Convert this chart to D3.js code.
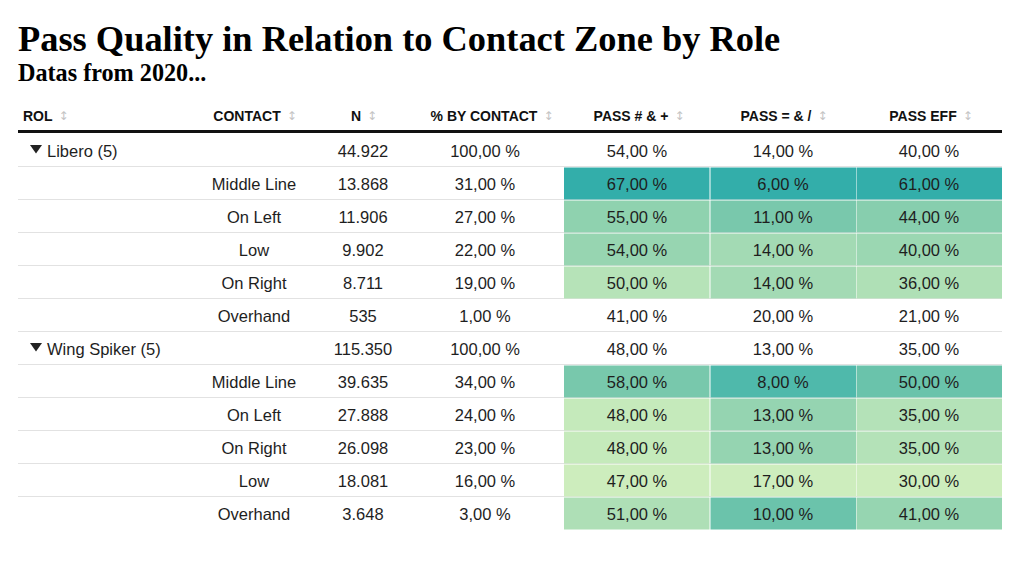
<!DOCTYPE html>
<html>
<head>
<meta charset="utf-8">
<script src="https://cdn.jsdelivr.net/npm/d3@7"></script>
<style>
  html, body { margin: 0; padding: 0; background: #fff; }
  svg { display: block; }
</style>
</head>
<body>
<svg id="chart" width="1024" height="581"></svg>
<script>
// ---------- DATA ----------
const titleText = "Pass Quality in Relation to Contact Zone by Role";
const subtitleText = "Datas from 2020...";
const headers = ["ROL", "CONTACT", "N", "% BY CONTACT", "PASS # & +", "PASS = & /", "PASS EFF"];
const roles = ["Libero (5)", "", "", "", "", "", "Wing Spiker (5)", "", "", "", "", ""];
const contacts = ["", "Middle Line", "On Left", "Low", "On Right", "Overhand", "", "Middle Line", "On Left", "On Right", "Low", "Overhand"];
const nValues = [44922, 13868, 11906, 9902, 8711, 535, 115350, 39635, 27888, 26098, 18081, 3648];
const pctByContact = [100, 31, 27, 22, 19, 1, 100, 34, 24, 23, 16, 3];
const passGood = [54, 67, 55, 54, 50, 41, 48, 58, 48, 48, 47, 51];
const passBad = [14, 6, 11, 14, 14, 20, 13, 8, 13, 13, 17, 10];
const passEff = [40, 61, 44, 40, 36, 21, 35, 50, 35, 35, 30, 41];
const colored = [false, true, true, true, true, false, false, true, true, true, true, true];

// ---------- LAYOUT ----------
const svg = d3.select("#chart");
const left = 18, right = 1002;
const headerY = 121, ruleY = 131.5;
const tableTop = 134, rowH = 33;
const colEdges = [18, 190, 320, 405, 564, 710, 856, 1002];
const valueCenters = [null, 254, 363, 485, 637, 783, 929];
const headerCenters = [null, 254, 363, 491, 638, 783, 930];
const textColor = "#1e1e1e";
const sans = "'Liberation Sans', Arial, Helvetica, sans-serif";

const rowIdx = d3.range(roles.length);
const y = d3.scaleBand().domain(rowIdx).range([tableTop, tableTop + rowH * rowIdx.length]).padding(0);

const fmtN = d3.formatLocale({decimal: ",", thousands: ".", grouping: [3], currency: ["", ""]}).format(",d");
const fmtPct = v => d3.format(".2f")(v).replace(".", ",") + " %";

// Title
svg.append("text").attr("x", left).attr("y", 51)
  .attr("font-family", "'Liberation Serif', 'Times New Roman', serif")
  .attr("font-weight", "bold").attr("font-size", 36.4).attr("fill", "#000")
  .text(titleText);
svg.append("text").attr("x", left).attr("y", 81)
  .attr("font-family", "'Liberation Serif', 'Times New Roman', serif")
  .attr("font-weight", "bold").attr("font-size", 24.2).attr("fill", "#000")
  .text(subtitleText);

// Color scales (per column, over colored cells)
const lightC = "#cdedbd", midC = "#80cbac", darkC = "#33aeaa";
function makeScale(vals, invert) {
  const ext = d3.extent(vals.filter((v, i) => colored[i]));
  const dom = invert ? [ext[1], ext[0]] : ext;
  return d3.scaleLinear().domain([dom[0], (dom[0] + dom[1]) / 2, dom[1]]).range([lightC, midC, darkC]).interpolate(d3.interpolateRgb);
}
const colorCols = [
  {vals: passGood, scale: makeScale(passGood, false), col: 4},
  {vals: passBad, scale: makeScale(passBad, true), col: 5},
  {vals: passEff, scale: makeScale(passEff, false), col: 6}
];

// Row separators
svg.append("g").selectAll("line").data(rowIdx.slice(0, -1)).join("line")
  .attr("x1", left).attr("x2", right)
  .attr("y1", d => Math.round(y(d) + rowH) - 0.5).attr("y2", d => Math.round(y(d) + rowH) - 0.5)
  .attr("stroke", "#e2e2e2").attr("stroke-width", 1);

// Colored cells
colorCols.forEach(cc => {
  svg.append("g").selectAll("rect").data(rowIdx.filter(i => colored[i])).join("rect")
    .attr("x", colEdges[cc.col] + (cc.col === 4 ? 0 : 0.5))
    .attr("width", colEdges[cc.col + 1] - colEdges[cc.col] - 0.5)
    .attr("y", d => y(d) + 0.5)
    .attr("height", rowH - 1)
    .attr("fill", d => cc.scale(cc.vals[d]));
});

// Header
const hdr = svg.append("g").attr("font-family", sans).attr("font-weight", "bold").attr("font-size", 14).attr("fill", "#111");
headers.forEach((h, i) => {
  const g = hdr.append("g");
  const t = g.append("text").attr("x", 0).attr("y", 0).text(h);
  const w = t.node().getComputedTextLength();
  g.append("text").attr("x", w + 6).attr("y", -1)
    .attr("font-family", "'DejaVu Sans', sans-serif").attr("font-weight", "normal")
    .attr("font-size", 12).attr("fill", "#c4c4c4").text("↕");
  const total = w + 6 + 8;
  const x0 = i === 0 ? 23 : headerCenters[i] - total / 2;
  g.attr("transform", `translate(${x0},${headerY})`);
});
svg.append("line").attr("x1", left).attr("x2", right).attr("y1", ruleY).attr("y2", ruleY)
  .attr("stroke", "#111").attr("stroke-width", 3);

// Body
const body = svg.append("g").attr("font-family", sans).attr("font-size", 16.5).attr("fill", textColor);
const rows = body.selectAll("g.row").data(rowIdx).join("g").attr("class", "row")
  .attr("transform", d => `translate(0,${y(d) + rowH / 2 + 6})`);

// Role (group rows)
rows.filter(d => roles[d] !== "").each(function(d) {
  const g = d3.select(this);
  g.append("path").attr("d", "M30,-11.5 L42,-11.5 L36,-3 Z").attr("fill", "#222");
  g.append("text").attr("x", 47).attr("y", 0).text(roles[d]);
});
rows.append("text").attr("x", valueCenters[1]).attr("text-anchor", "middle").text(d => contacts[d]);
rows.append("text").attr("x", valueCenters[2]).attr("text-anchor", "middle").text(d => fmtN(nValues[d]));
rows.append("text").attr("x", valueCenters[3]).attr("text-anchor", "middle").text(d => fmtPct(pctByContact[d]));
rows.append("text").attr("x", valueCenters[4]).attr("text-anchor", "middle").text(d => fmtPct(passGood[d]));
rows.append("text").attr("x", valueCenters[5]).attr("text-anchor", "middle").text(d => fmtPct(passBad[d]));
rows.append("text").attr("x", valueCenters[6]).attr("text-anchor", "middle").text(d => fmtPct(passEff[d]));
</script>
</body>
</html>
